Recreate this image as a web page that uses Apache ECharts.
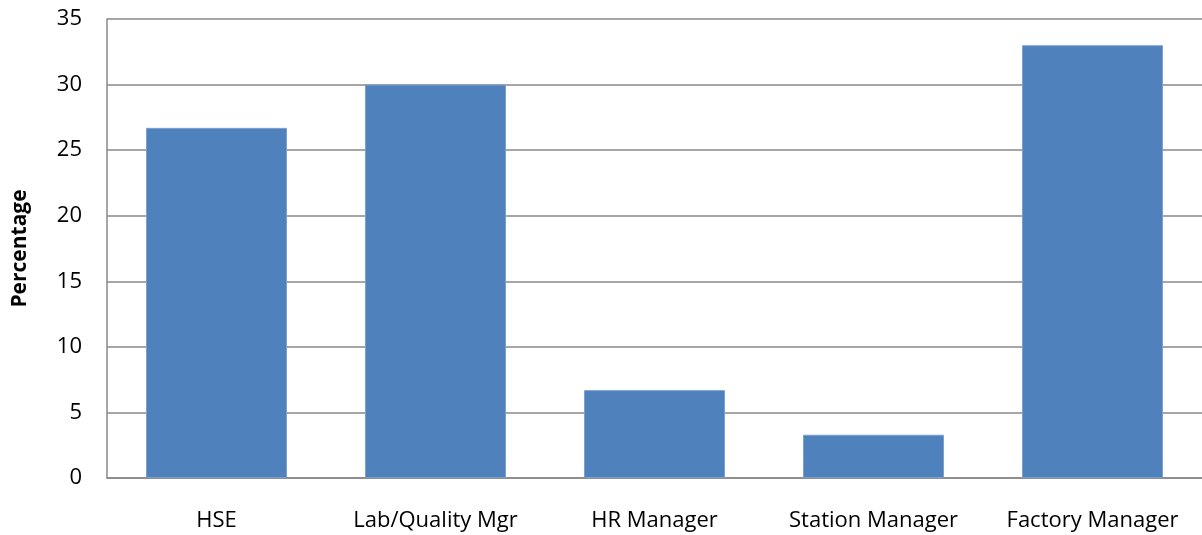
<!DOCTYPE html>
<html><head><meta charset="utf-8">
<script src="https://cdn.jsdelivr.net/npm/echarts@6/dist/echarts.min.js"></script>
<style>html,body{margin:0;padding:0;background:#fff}#c{width:1202px;height:535px}</style>
</head><body><div id="c"></div>
<script>
const categories = ['HSE', 'Lab/Quality Mgr', 'HR Manager', 'Station Manager', 'Factory Manager'];
const values = [26.7, 30.0, 6.7, 3.3, 33.0];
const yTicks = [0, 5, 10, 15, 20, 25, 30, 35];
const yName = 'Percentage';

const chart = echarts.init(document.getElementById('c'));
const font = '"Open Sans", "Noto Sans", sans-serif';
chart.setOption({
  animation: false,
  grid: { left: 107, right: 0, top: 19, bottom: 57, containLabel: false, outerBoundsMode: 'none' },
  xAxis: {
    type: 'category', data: categories,
    axisLine: { lineStyle: { color: '#888', width: 1.5 } },
    axisTick: { show: false },
    axisLabel: { color: '#000', fontSize: 22, fontFamily: font, margin: 32, interval: 0 }
  },
  yAxis: {
    type: 'value', min: yTicks[0], max: yTicks[yTicks.length - 1], interval: 5,
    name: yName, nameLocation: 'middle', nameGap: 76,
    nameTextStyle: { color: '#000', fontSize: 21, fontWeight: 'bold', fontFamily: font },
    axisLine: { show: true, lineStyle: { color: '#888', width: 1.5 } },
    axisTick: { show: false },
    splitLine: { lineStyle: { color: '#888', width: 1.5 } },
    axisLabel: { color: '#000', fontSize: 22, fontFamily: font, margin: 25 }
  },
  series: [{
    type: 'bar', data: values, barWidth: 141,
    itemStyle: { color: '#4F81BD', borderColor: '#7BA0CF', borderWidth: 1 }
  }]
});
</script></body></html>
